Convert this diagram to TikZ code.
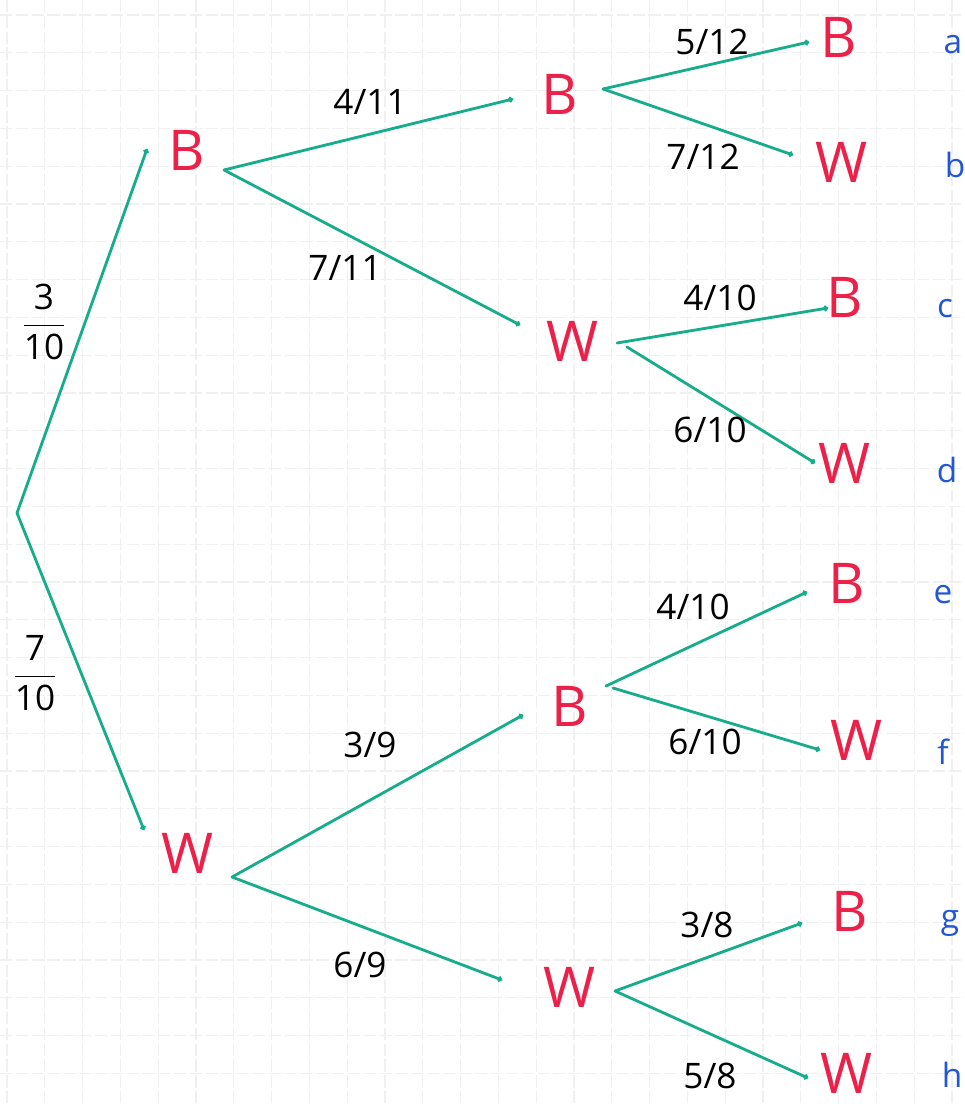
\documentclass[tikz,border=0pt]{standalone}
\usepackage{fontspec}
\setmainfont{Open Sans}
\usetikzlibrary{arrows.meta}
\definecolor{branch}{RGB}{22,172,140}
\definecolor{outc}{RGB}{236,32,72}
\definecolor{lbl}{RGB}{35,85,215}
\definecolor{gridc}{RGB}{240,240,240}
\begin{document}
\begin{tikzpicture}[x=0.02cm,y=-0.02cm,
  outcome/.style={text=outc,font=\fontsize{32}{34}\selectfont,inner sep=0pt},
  prob/.style={font=\fontsize{20}{22}\selectfont,inner sep=0pt},
  leaflbl/.style={text=lbl,font=\fontsize{19}{21}\selectfont,inner sep=0pt},
  branchline/.style={draw=branch,line width=1.6pt,line cap=round,-{Circle[length=3pt]}},
  gridline/.style={draw=gridc,line width=0.6pt,dash pattern=on 7pt off 2pt}]
\useasboundingbox (0,0) rectangle (964,1104);
\fill[white] (0,0) rectangle (964,1104);
% grid paper
\foreach \i in {0,...,25} {\draw[gridline] ({7+37.8*\i},0) -- ({7+37.8*\i},1104);}
\foreach \j in {0,...,29} {\draw[gridline] (0,{15+37.8*\j}) -- (964,{15+37.8*\j});}

% outcome nodes
\node[outcome] (B1) at (187,150) {B};
\node[outcome] (W1) at (188,853) {W};
\node[outcome] (B2) at (560,94) {B};
\node[outcome] (W2) at (573,341) {W};
\node[outcome] (B3) at (570,706) {B};
\node[outcome] (W3) at (570,987) {W};
\node[outcome] (Ba) at (839,37) {B};
\node[outcome] (Wb) at (842,162) {W};
\node[outcome] (Bc) at (845,297) {B};
\node[outcome] (Wd) at (845,463) {W};
\node[outcome] (Be) at (847,583) {B};
\node[outcome] (Wf) at (857,740) {W};
\node[outcome] (Bg) at (850,911) {B};
\node[outcome] (Wh) at (847,1073) {W};

% leaf letters
\node[leaflbl] (la) at (953,45) {a};
\node[leaflbl] (lb) at (955,165) {b};
\node[leaflbl] (lc) at (945,309) {c};
\node[leaflbl] (ld) at (947,470) {d};
\node[leaflbl] (le) at (943,595) {e};
\node[leaflbl] (lf) at (943,752) {f};
\node[leaflbl] (lg) at (950,923) {g};
\node[leaflbl] (lh) at (952,1075) {h};

% connector end points
\coordinate (root) at (17,513);
\coordinate (B1in) at (147,149);  \coordinate (B1out) at (224,170);
\coordinate (W1in) at (144,830);  \coordinate (W1out) at (232,877);
\coordinate (B2in) at (513,99);   \coordinate (B2out) at (603,89);
\coordinate (W2in) at (520,325);  \coordinate (W2outa) at (617,343); \coordinate (W2outb) at (627,347);
\coordinate (B3in) at (523,715);  \coordinate (B3outa) at (606,686); \coordinate (B3outb) at (613,688);
\coordinate (W3in) at (502,980);  \coordinate (W3out) at (615,991);
\coordinate (Bain) at (809,42);
\coordinate (Wbin) at (793,155);
\coordinate (Bcin) at (828,308);
\coordinate (Wdin) at (815,463);
\coordinate (Bein) at (807,592);
\coordinate (Wfin) at (820,750);
\coordinate (Bgin) at (802,923);
\coordinate (Whin) at (808,1078);

% branches
\draw[branchline] (root) -- (B1in);
\draw[branchline] (root) -- (W1in);
\draw[branchline] (B1out) -- (B2in);
\draw[branchline] (B1out) -- (W2in);
\draw[branchline] (W1out) -- (B3in);
\draw[branchline] (W1out) -- (W3in);
\draw[branchline] (B2out) -- (Bain);
\draw[branchline] (B2out) -- (Wbin);
\draw[branchline] (W2outa) -- (Bcin);
\draw[branchline] (W2outb) -- (Wdin);
\draw[branchline] (B3outa) -- (Bein);
\draw[branchline] (B3outb) -- (Wfin);
\draw[branchline] (W3out) -- (Bgin);
\draw[branchline] (W3out) -- (Whin);

% probabilities
\node[prob] (p1) at (44,322) {$\displaystyle\frac{\mbox{3}}{\mbox{10}}$};
\node[prob] (p2) at (35,673) {$\displaystyle\frac{\mbox{7}}{\mbox{10}}$};
\node[prob] (p3) at (370,102) {4/11};
\node[prob] (p4) at (345,268) {7/11};
\node[prob] (p5) at (370,745) {3/9};
\node[prob] (p6) at (360,965) {6/9};
\node[prob] (p7) at (712,42) {5/12};
\node[prob] (p8) at (703,157) {7/12};
\node[prob] (p9) at (720,298) {4/10};
\node[prob] (p10) at (710,430) {6/10};
\node[prob] (p11) at (693,607) {4/10};
\node[prob] (p12) at (705,742) {6/10};
\node[prob] (p13) at (707,925) {3/8};
\node[prob] (p14) at (710,1076) {5/8};
\end{tikzpicture}
\end{document}
